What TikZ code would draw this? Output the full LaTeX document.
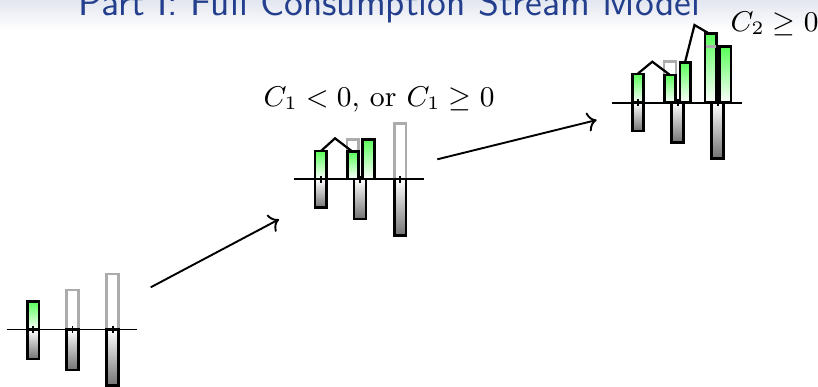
\documentclass[tikz,border=0pt]{standalone}
\usetikzlibrary{arrows.meta}
\definecolor{titleblue}{RGB}{34,62,140}
\definecolor{titlebg}{RGB}{226,230,239}

\begin{document}
\begin{tikzpicture}[
    x=0.315pt, y=-0.315pt,
    axisline/.style={draw,line width=0.6pt},
    tickmark/.style={draw,line width=0.6pt},
    debtbar/.style ={draw,line width=0.8pt,top color=white,bottom color=gray!90!black},
    consbar/.style ={draw,line width=0.8pt,top color=green!65!white,bottom color=white},
    endowbox/.style={draw=gray!65,line width=0.8pt},
    roof/.style    ={draw,line width=0.7pt},
    flow/.style    ={->,line width=0.6pt},
    cond/.style    ={anchor=base west,inner sep=0pt,font=\fontsize{9.15}{11}\selectfont}
]
\clip (0,0) rectangle (818,386);
\fill[top color=titlebg,bottom color=white] (0,0) rectangle (818,30);
\node[anchor=base west,inner sep=0pt,text=titleblue,font=\fontsize{12.1}{14}\selectfont\sffamily]
    (title) at (78,15) {Part I: Full Consumption Stream Model};

% stage 0: endowment stream
\draw[consbar]  (27.3,301.7) rectangle (39,329.5);
\draw[debtbar]  (27.3,329.5) rectangle (39,359);
\draw[endowbox] (66.5,329.5) rectangle (78.5,290);
\draw[debtbar]  (66.5,329.5) rectangle (78.5,370);
\draw[endowbox] (106.7,329.5) rectangle (118.7,274);
\draw[debtbar]  (106.7,329.5) rectangle (118.7,385.7);
\draw[axisline] (6.7,329.5) -- (136.7,329.5);
\foreach \t in {33.2,72.5,112.7}
    \draw[tickmark] (\t,326) -- (\t,333);

% stage 1: consume part of C_1 early
\draw[consbar]  (315,151) rectangle (326.7,179);
\draw[debtbar]  (315,179) rectangle (326.7,207.7);
\draw[endowbox] (347,179) rectangle (358.7,139.3);
\draw[consbar]  (347.3,151.7) rectangle (358.3,179);
\draw[consbar]  (362.7,139.3) rectangle (374.3,179);
\draw[debtbar]  (354,179) rectangle (366,219);
\draw[endowbox] (394.3,179) rectangle (406,123.3);
\draw[debtbar]  (394.3,179) rectangle (406,235.7);
\draw[axisline] (294.3,179) -- (424,179);
\foreach \t in {321,360,400}
    \draw[tickmark] (\t,175.5) -- (\t,182.5);
\draw[roof] (321,151) -- (335,138.3) -- (352.5,151.7);
\node[cond] (condone) at (263,106.7) {$C_1<0$, or $C_1\geq 0$};

% stage 2: consume part of C_2 early
\draw[consbar]  (632.3,74) rectangle (643.7,102.7);
\draw[debtbar]  (632.3,102.7) rectangle (643.7,131);
\draw[endowbox] (664,102.7) rectangle (676,61.7);
\draw[consbar]  (664.3,75) rectangle (675.7,102.7);
\draw[consbar]  (680,62.3) rectangle (690.7,102.7);
\draw[debtbar]  (671.7,102.7) rectangle (683.3,142.7);
\draw[consbar]  (705,33.5) rectangle (716.5,102.7);
\draw[consbar]  (719.5,46.7) rectangle (731,102.7);
\draw[debtbar]  (711.7,102.7) rectangle (723.3,158.3);
\draw[endowbox] (706,46.7) -- (715.5,46.7);
\draw[axisline] (611.7,102.7) -- (741.7,102.7);
\foreach \t in {638,677.7,717.7}
    \draw[tickmark] (\t,99.2) -- (\t,106.2);
\draw[roof] (638,73.5) -- (652.3,61.7) -- (670,75);
\draw[roof] (685,62.3) -- (694.5,25) -- (709,33.5);
\node[cond] (condtwo) at (730,31) {$C_2\geq 0$};

% transitions
\coordinate (zeroout) at (150.7,287.3);
\coordinate (onein)   at (279,219.3);
\coordinate (oneout)  at (437.3,159.3);
\coordinate (twoin)   at (596.7,120);
\draw[flow] (zeroout) -- (onein);
\draw[flow] (oneout) -- (twoin);

\end{tikzpicture}
\end{document}
